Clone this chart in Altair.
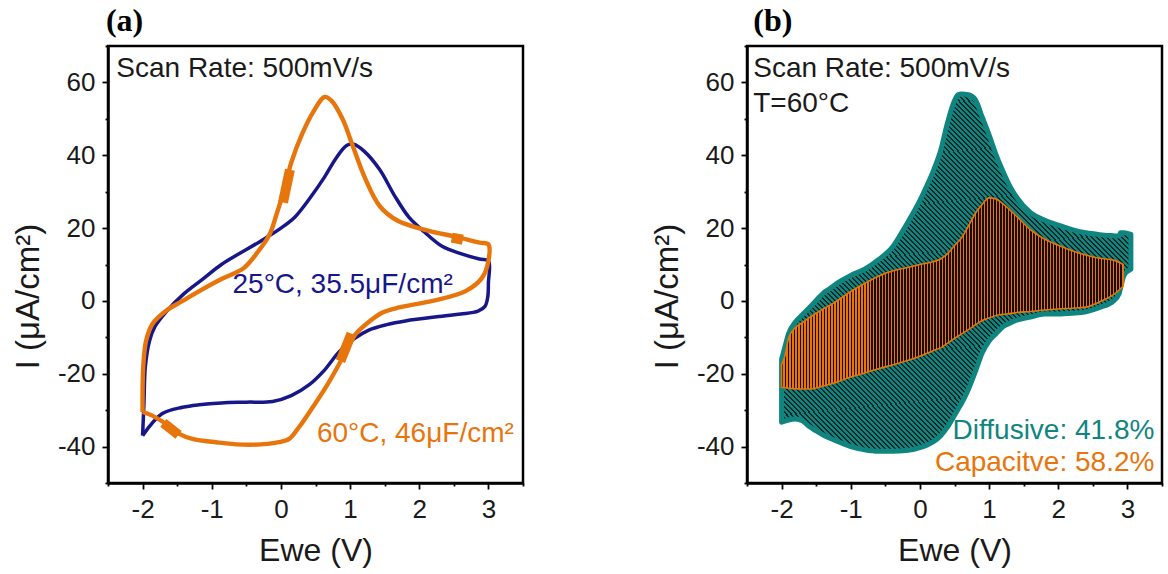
import altair as alt
import pandas as pd

# ---------------- Panel (a): CV loops, traced in sweep order ----------------
blue_x = [-2.0, -1.98, -1.96, -1.9, -1.82, -1.66, -1.4, -1.13, -0.86, -0.6, -0.33, 0.0, 0.2, 0.41,
          0.63, 0.79, 0.95, 1.05, 1.21, 1.43, 1.64, 1.85, 2.07, 2.33, 2.6, 2.87, 3.0,
          3.0, 2.99, 2.95, 2.85, 2.6, 2.33, 1.8, 1.53, 1.27, 1.05, 0.84, 0.63, 0.41, 0.15, -0.12,
          -0.5, -0.86, -1.18, -1.42, -1.72, -2.0]
blue_y = [-37.0, -28.0, -18.0, -11.0, -7.0, -3.0, 2.0, 6.0, 10.0, 13.0, 16.0, 20.0, 23.0, 28.0,
          34.0, 39.0, 42.7, 43.0, 41.0, 36.0, 29.0, 23.0, 19.0, 15.0, 13.0, 11.5, 11.0,
          5.0, 1.0, -1.5, -2.8, -3.6, -4.2, -5.5, -6.5, -8.0, -10.5, -14.0, -19.0, -23.0, -26.0, -27.6,
          -27.8, -28.0, -28.5, -29.2, -31.0, -37.0]

orange_x = [-2.0, -2.0, -1.99, -1.95, -1.86, -1.66, -1.42, -1.18, -0.86, -0.54, -0.36, -0.17, -0.06,
            0.04, 0.15, 0.31, 0.47, 0.63, 0.73, 0.89, 1.03, 1.21, 1.43, 1.69, 2.07, 2.55, 2.87, 3.0,
            3.0, 2.91, 2.67, 2.19, 1.71, 1.47, 1.23, 1.08, 0.99, 0.84, 0.65, 0.46, 0.26, 0.12, -0.03,
            -0.46, -0.94, -1.28, -1.47, -1.66, -1.86, -2.0]
orange_y = [-30.5, -25.0, -18.0, -11.0, -6.4, -2.7, 0.0, 2.7, 6.0, 9.0, 12.8, 18.0, 24.0,
            30.0, 38.0, 46.0, 52.0, 56.0, 55.0, 50.0, 43.0, 34.0, 26.0, 22.0, 19.6, 17.5, 16.0, 15.5,
            11.0, 6.4, 2.7, 0.0, -1.8, -3.2, -6.4, -9.1, -11.9, -17.4, -23.7, -29.2, -34.7, -37.9, -38.8,
            -39.5, -38.8, -37.9, -36.5, -33.8, -31.5, -30.5]

# noisy blobs on the 60 C trace (start, end of each blob)
blob_x0 = [0.03, 0.86, 2.47, -1.70]
blob_y0 = [27.0, -16.5, 17.4, -33.5]
blob_x1 = [0.13, 1.02, 2.63, -1.48]
blob_y1 = [36.0, -9.0, 16.8, -36.8]

# ---------------- Panel (b): total (diffusive) and capacitive regions ----------------
teal_x = [-2.0, -1.95, -1.9, -1.8, -1.7, -1.6, -1.5, -1.4, -1.3, -1.2, -1.0, -0.8, -0.6, -0.4, -0.2,
          0.0, 0.1, 0.2, 0.3, 0.4, 0.5, 0.55, 0.6, 0.7, 0.8, 0.9, 1.0, 1.1, 1.2, 1.3, 1.4, 1.6, 1.8,
          2.0, 2.2, 2.4, 2.6, 2.8, 2.88, 2.9, 2.95, 3.05]
teal_upper = [-16.0, -12.5, -9.0, -5.8, -3.8, -1.9, 0.1, 2.1, 3.4, 4.8, 7.0, 8.7, 11.3, 14.7, 20.8,
              27.6, 31.6, 36.0, 41.3, 49.0, 55.0, 56.6, 56.8, 56.6, 55.3, 50.5, 45.6, 40.2, 35.6, 31.5,
              28.4, 24.2, 22.2, 20.8, 19.6, 18.7, 18.2, 17.9, 17.8, 18.7, 18.7, 18.3]
teal_lower = [-33.3, -33.0, -32.7, -32.4, -32.9, -34.5, -35.7, -36.8, -37.7, -38.5, -40.0, -40.9, -41.3,
              -41.3, -41.1, -40.3, -39.6, -38.6, -37.0, -34.6, -31.4, -29.8, -28.2, -24.3, -19.5, -14.3,
              -11.0, -9.0, -7.1, -6.1, -5.3, -4.4, -3.6, -3.6, -3.4, -3.0, -1.8, 0.0, 2.0, 3.5, 7.0, 8.7]

cap_x = [-2.0, -1.95, -1.9, -1.8, -1.7, -1.6, -1.5, -1.4, -1.3, -1.2, -1.0, -0.8, -0.6, -0.4, -0.2,
         0.0, 0.2, 0.3, 0.4, 0.5, 0.6, 0.7, 0.8, 0.9, 1.0, 1.1, 1.2, 1.3, 1.4, 1.6, 1.8, 2.0, 2.2,
         2.4, 2.6, 2.8, 2.94]
cap_upper = [-17.5, -15.0, -10.3, -7.3, -6.0, -4.6, -3.4, -2.2, -1.2, 0.0, 2.6, 4.8, 6.8, 8.2, 9.1,
             10.0, 10.8, 11.5, 13.0, 15.2, 17.3, 20.5, 24.0, 26.5, 28.3, 28.0, 26.7, 25.0, 23.2, 19.5,
             17.0, 15.3, 13.8, 12.6, 11.7, 11.2, 10.0]
cap_lower = [-23.7, -23.8, -24.0, -24.1, -24.2, -24.2, -23.9, -23.4, -22.9, -22.3, -20.9, -19.8, -18.6,
             -17.6, -16.5, -15.2, -13.6, -12.9, -11.6, -10.3, -9.1, -7.9, -6.6, -5.4, -4.7, -4.0, -3.7,
             -3.5, -3.2, -2.9, -2.5, -2.2, -2.0, -1.7, -0.2, 1.7, 4.1]

# ---------------- annotations (data coordinates) ----------------
ann_a_text = ["Scan Rate: 500mV/s", "25\u00b0C, 35.5\u03bcF/cm\u00b2", "60\u00b0C, 46\u03bcF/cm\u00b2"]
ann_a_x = [-2.38, -0.70, 0.52]
ann_a_y = [61.6, 2.3, -38.8]
ann_b_text = ["Scan Rate: 500mV/s", "T=60\u00b0C", "Diffusive: 41.8%", "Capacitve: 58.2%"]
ann_b_x = [-2.41, -2.41, 3.39, 3.39]
ann_b_y = [61.6, 52.0, -37.8, -46.8]
panel_labels = ["(a)", "(b)"]
panel_label_x = [-2.53, -2.41]
panel_label_y = [74.0, 74.0]

x_ticks = [-2.5, -2.0, -1.5, -1.0, -0.5, 0.0, 0.5, 1.0, 1.5, 2.0, 2.5, 3.0, 3.5]
y_ticks = [-50, -40, -30, -20, -10, 0, 10, 20, 30, 40, 50, 60, 70]

NAVY = "#17178a"
ORANGE = "#e8750c"
TEAL = "#10857f"
TXT = "#1a1a1a"
W, H = 415, 437

x_scale = alt.Scale(domain=[-2.5, 3.5], nice=False, zero=False)
y_scale = alt.Scale(domain=[-50, 70], nice=False, zero=False)

x_axis = alt.Axis(
    title="Ewe (V)", values=x_ticks,
    labelExpr="datum.value % 1 === 0 ? '' + datum.value : ''",
    tickSize={"condition": {"test": "datum.value % 1 === 0", "value": 6}, "value": 3},
    labelPadding=7, titleBaseline="alphabetic", titleY=77,
)
y_axis = alt.Axis(
    title="I (\u03bcA/cm\u00b2)", values=y_ticks,
    labelExpr="datum.value % 20 === 0 ? '' + datum.value : ''",
    tickSize={"condition": {"test": "datum.value % 20 === 0", "value": 6}, "value": 3},
    labelPadding=7, titleBaseline="alphabetic", titleX=-70, titleY=250, titleFontSize=33,
)


def X(field):
    return alt.X(field, type="quantitative", scale=x_scale, axis=x_axis)


def Y(field):
    return alt.Y(field, type="quantitative", scale=y_scale, axis=y_axis)


def text_layer(t, xv, yv, color, align, font="Liberation Sans", size=28, weight="normal"):
    df = pd.DataFrame({"x": [xv], "y": [yv], "t": [t]})
    return alt.Chart(df).mark_text(font=font, fontSize=size, fontWeight=weight, color=color,
                                   align=align, baseline="alphabetic").encode(
        x=X("x"), y=Y("y"), text="t:N")


def texts(labels, xs, ys, colors, aligns):
    return [text_layer(t, xv, yv, c, al) for t, xv, yv, c, al in zip(labels, xs, ys, colors, aligns)]


def stripes(n, bg, fg, frac):
    stops = []
    for k in range(n):
        a = round(k / n, 6)
        b = round((k + frac) / n, 6)
        c = round((k + 1) / n, 6)
        stops += [alt.GradientStop(offset=a, color=fg), alt.GradientStop(offset=b, color=fg),
                  alt.GradientStop(offset=b, color=bg), alt.GradientStop(offset=c, color=bg)]
    return stops


# ---- panel (a)
blue_df = pd.DataFrame({"x": blue_x, "y": blue_y, "i": range(len(blue_x))})
orange_df = pd.DataFrame({"x": orange_x, "y": orange_y, "i": range(len(orange_x))})
blob_df = pd.DataFrame({
    "x": blob_x0 + blob_x1, "y": blob_y0 + blob_y1,
    "g": list(range(len(blob_x0))) * 2,
    "i": [0] * len(blob_x0) + [1] * len(blob_x1),
})

blue = alt.Chart(blue_df).mark_line(color=NAVY, strokeWidth=3.5, strokeJoin="round",
                                    interpolate="catmull-rom").encode(
    x=X("x"), y=Y("y"), order="i:Q")
orange = alt.Chart(orange_df).mark_line(color=ORANGE, strokeWidth=4.4, strokeJoin="round",
                                        interpolate="catmull-rom").encode(
    x=X("x"), y=Y("y"), order="i:Q")
blobs = alt.Chart(blob_df).mark_line(color=ORANGE, strokeWidth=10, strokeCap="butt").encode(
    x=X("x"), y=Y("y"), detail="g:N", order="i:Q")

panel_a = alt.layer(
    blue, orange, blobs,
    *texts(ann_a_text, ann_a_x, ann_a_y, [TXT, NAVY, ORANGE], ["left", "left", "left"]),
    text_layer(panel_labels[0], panel_label_x[0], panel_label_y[0], "black", "left",
               font="Liberation Serif", size=32, weight="bold"),
).properties(width=W, height=H)

# ---- panel (b)
teal_df = pd.DataFrame({"x": teal_x, "hi": teal_upper, "lo": teal_lower})
cap_df = pd.DataFrame({"x": cap_x, "hi": cap_upper, "lo": cap_lower})

teal_fill = alt.LinearGradient(gradient="linear", x1=0, y1=1, x2=1, y2=0,
                               stops=stripes(140, TEAL, "#0b2624", 0.4))
cap_fill = alt.LinearGradient(gradient="linear", x1=0, y1=0, x2=1, y2=0,
                              stops=stripes(114, ORANGE, "#1a0d00", 0.42))

teal = alt.Chart(teal_df).mark_area(fill=teal_fill, stroke=TEAL, strokeWidth=5,
                                    strokeJoin="round", interpolate="monotone").encode(
    x=X("x"), y=Y("hi"), y2="lo")
cap = alt.Chart(cap_df).mark_area(fill=cap_fill, stroke=ORANGE, strokeWidth=1.6,
                                  interpolate="monotone").encode(
    x=X("x"), y=Y("hi"), y2="lo")

panel_b = alt.layer(
    teal, cap,
    *texts(ann_b_text, ann_b_x, ann_b_y, [TXT, TXT, TEAL, ORANGE], ["left", "left", "right", "right"]),
    text_layer(panel_labels[1], panel_label_x[1], panel_label_y[1], "black", "left",
               font="Liberation Serif", size=32, weight="bold"),
).properties(width=W, height=H)

chart = alt.hconcat(panel_a, panel_b, spacing=123).properties(
    padding={"left": 10, "top": 4, "right": 2, "bottom": 2}
).configure_view(
    stroke="black", strokeWidth=2.5
).configure_axis(
    grid=False, domainColor="black", domainWidth=2.5, tickColor="black", tickWidth=1.8,
    labelFont="Liberation Sans", labelFontSize=26, labelColor=TXT,
    titleFont="Liberation Sans", titleFontSize=32, titleFontWeight="normal", titleColor=TXT,
)

chart.save("out.html", embed_options={"renderer": "svg", "actions": False})
